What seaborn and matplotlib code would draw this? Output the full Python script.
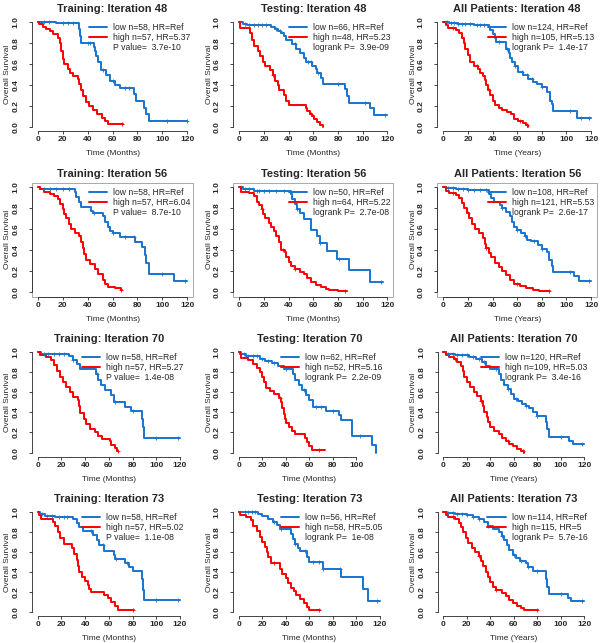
import numpy as np
import pandas as pd
import matplotlib
matplotlib.use("Agg")
import matplotlib.pyplot as plt
from matplotlib.lines import Line2D
from matplotlib.patches import Rectangle
import seaborn as sns

# ---------------------------------------------------------------
# panel texts (row by row, 4 iterations x 3 cohorts)
# ---------------------------------------------------------------
titles = ["Training: Iteration 48", "Testing: Iteration 48", "All Patients: Iteration 48",
          "Training: Iteration 56", "Testing: Iteration 56", "All Patients: Iteration 56",
          "Training: Iteration 70", "Testing: Iteration 70", "All Patients: Iteration 70",
          "Training: Iteration 73", "Testing: Iteration 73", "All Patients: Iteration 73"]
xlabels = ["Time (Months)", "Time (Months)", "Time (Years)"] * 4
low_labels = ["low n=58, HR=Ref", "low n=66, HR=Ref", "low n=124, HR=Ref",
              "low n=58, HR=Ref", "low n=50, HR=Ref", "low n=108, HR=Ref",
              "low n=58, HR=Ref", "low n=62, HR=Ref", "low n=120, HR=Ref",
              "low n=58, HR=Ref", "low n=56, HR=Ref", "low n=114, HR=Ref"]
high_labels = ["high n=57, HR=5.37", "high n=48, HR=5.23", "high n=105, HR=5.13",
               "high n=57, HR=6.04", "high n=64, HR=5.22", "high n=121, HR=5.53",
               "high n=57, HR=5.27", "high n=52, HR=5.16", "high n=109, HR=5.03",
               "high n=57, HR=5.02", "high n=58, HR=5.05", "high n=115, HR=5"]
stat_labels = ["P value=  3.7e-10", "logrank P=  3.9e-09", "logrank P=  1.4e-17",
               "P value=  8.7e-10", "logrank P=  2.7e-08", "logrank P=  2.6e-17",
               "P value=  1.4e-08", "logrank P=  2.2e-09", "logrank P=  3.4e-16",
               "P value=  1.1e-08", "logrank P=  1e-08", "logrank P=  5.7e-16"]
xticks_max = [120, 120, 120, 120, 120, 120, 120, 100, 120, 120, 120, 120]

# ---------------------------------------------------------------
# Kaplan-Meier steps (time, survival)
# ---------------------------------------------------------------
tr48_low = [(0, 1.0), (15, 0.985), (33, 0.93), (34, 0.86), (35, 0.80), (45, 0.76), (46, 0.72), (47, 0.67),
            (48, 0.62), (51, 0.54), (55, 0.49), (58, 0.44), (62, 0.40), (66, 0.37), (77, 0.31), (79, 0.25),
            (85, 0.18), (87, 0.12), (89, 0.06), (120, 0.06)]
tr48_high = [(0, 1.0), (1.3, 0.98), (4, 0.95), (7, 0.93), (10, 0.91), (12.5, 0.88), (16, 0.85), (17.5, 0.80),
             (18.7, 0.72), (20, 0.65), (21, 0.60), (24, 0.55), (26, 0.51), (28.6, 0.48), (32, 0.46), (33, 0.41),
             (34.5, 0.35), (36.6, 0.29), (38.8, 0.24), (41.4, 0.20), (44.6, 0.16), (47.8, 0.12), (51.3, 0.09),
             (54, 0.06), (56.7, 0.03), (68.7, 0.03)]
te48_low = [(0, 1.0), (3, 0.98), (6, 0.97), (26, 0.95), (29, 0.93), (31, 0.91), (34, 0.89), (36, 0.86),
            (38, 0.83), (43, 0.79), (46, 0.74), (49, 0.70), (52, 0.66), (54, 0.62), (59, 0.58), (62, 0.55),
            (63, 0.51), (66, 0.47), (68, 0.41), (86, 0.36), (87, 0.29), (89, 0.23), (106, 0.18), (109, 0.11),
            (120, 0.11)]
te48_high = [(0, 1.0), (0.5, 0.94), (9, 0.89), (10, 0.83), (12, 0.77), (15, 0.72), (17, 0.67), (19.5, 0.62),
             (21, 0.58), (25, 0.54), (27, 0.49), (29, 0.44), (31, 0.40), (32, 0.35), (36, 0.30), (38, 0.25),
             (40, 0.21), (54, 0.18), (55, 0.15), (57, 0.12), (58.6, 0.10), (60.5, 0.08), (62.7, 0.05),
             (65, 0.02), (68, 0.0)]
al48_low = [(0, 1.0), (5, 0.99), (12, 0.98), (25, 0.97), (37, 0.95), (38, 0.92), (40, 0.88), (42, 0.85),
            (43, 0.81), (51, 0.74), (53, 0.70), (54, 0.66), (56, 0.62), (58, 0.58), (61, 0.52), (65, 0.49),
            (69, 0.46), (73, 0.43), (76, 0.41), (80, 0.38), (84, 0.33), (87, 0.25), (88, 0.22), (89.4, 0.15),
            (108.4, 0.09), (120, 0.09)]
al48_high = [(0, 1.0), (2, 0.97), (4, 0.94), (10, 0.92), (13, 0.89), (15, 0.85), (17, 0.80), (18, 0.74),
             (20, 0.68), (22, 0.62), (25, 0.58), (28, 0.55), (30, 0.51), (32, 0.48), (34, 0.45), (35, 0.40),
             (36, 0.35), (38, 0.30), (40, 0.25), (42, 0.21), (45, 0.18), (48, 0.16), (52, 0.14), (55, 0.12),
             (57, 0.08), (61, 0.06), (65, 0.04), (67, 0.02), (69, 0.0)]

tr56_low = [(0, 1.0), (2, 0.98), (30, 0.95), (31, 0.90), (33, 0.86), (35, 0.81), (43, 0.77), (44, 0.75),
            (52, 0.72), (54, 0.67), (56, 0.62), (58, 0.58), (60, 0.56), (66, 0.52), (78, 0.48), (84, 0.43),
            (86, 0.35), (87, 0.28), (89, 0.17), (109, 0.11), (120, 0.11)]
tr56_high = [(0, 1.0), (2, 0.98), (5, 0.95), (10, 0.93), (13, 0.91), (16, 0.88), (18, 0.84), (20, 0.79),
             (21, 0.74), (23, 0.70), (25, 0.65), (27, 0.60), (30, 0.56), (33, 0.53), (35, 0.48), (36, 0.42),
             (37, 0.36), (39, 0.31), (42, 0.27), (46, 0.22), (48, 0.17), (52, 0.12), (54, 0.08), (56, 0.05),
             (62, 0.04), (67, 0.02), (68, 0.02)]
te56_low = [(0, 1.0), (3, 0.98), (12, 0.96), (42, 0.93), (43, 0.88), (45, 0.84), (47, 0.79), (49, 0.75),
            (52, 0.69), (58, 0.59), (63, 0.53), (65, 0.47), (71, 0.39), (79, 0.32), (89, 0.21), (106, 0.10),
            (116, 0.10)]
te56_high = [(0, 1.0), (1, 0.95), (8, 0.94), (12, 0.91), (14, 0.86), (16, 0.83), (18, 0.79), (19, 0.74),
             (21, 0.70), (24, 0.66), (26, 0.62), (28, 0.58), (30, 0.53), (32, 0.48), (34, 0.40), (37, 0.38),
             (38, 0.33), (40, 0.29), (42, 0.25), (45, 0.22), (49, 0.19), (52, 0.17), (55, 0.14), (58, 0.10),
             (62, 0.07), (66, 0.05), (70, 0.03), (73, 0.02), (80, 0.01), (87, 0.01)]
al56_low = [(0, 1.0), (2, 0.99), (10, 0.98), (20, 0.97), (37, 0.93), (39, 0.89), (41, 0.86), (46, 0.83),
            (48, 0.80), (51, 0.76), (54, 0.72), (56, 0.67), (57, 0.62), (60, 0.59), (63, 0.56), (66, 0.53),
            (68, 0.50), (71, 0.49), (77, 0.45), (80, 0.41), (84, 0.38), (86, 0.31), (88, 0.25), (89, 0.19),
            (106, 0.15), (110, 0.11), (120, 0.11)]
al56_high = [(0, 1.0), (2, 0.96), (5, 0.94), (10, 0.92), (13, 0.89), (15, 0.85), (17, 0.80), (19, 0.75),
             (21, 0.70), (23, 0.65), (26, 0.60), (29, 0.56), (32, 0.51), (34, 0.46), (35, 0.42), (37, 0.37),
             (39, 0.33), (42, 0.28), (45, 0.24), (48, 0.20), (51, 0.16), (54, 0.12), (57, 0.08), (62, 0.06),
             (67, 0.04), (73, 0.02), (78, 0.01), (87, 0.01)]

tr70_low = [(0, 1.0), (3, 0.98), (26, 0.96), (30, 0.92), (33, 0.88), (36, 0.83), (49, 0.78), (51, 0.72),
            (53, 0.67), (57, 0.62), (62, 0.57), (64, 0.50), (74, 0.45), (79, 0.41), (88, 0.33), (89, 0.25),
            (90, 0.15), (120, 0.15)]
tr70_high = [(0, 1.0), (2, 0.97), (7, 0.95), (11, 0.92), (14, 0.87), (16, 0.81), (19, 0.75), (21, 0.70),
             (24, 0.65), (27, 0.60), (30, 0.55), (34, 0.52), (35, 0.46), (36, 0.39), (39, 0.33), (41, 0.28),
             (44, 0.23), (48, 0.20), (51, 0.17), (54, 0.14), (61, 0.12), (62, 0.08), (65, 0.05), (67, 0.02),
             (68, 0.02)]
te70_low = [(0, 1.0), (2, 0.98), (6, 0.96), (18, 0.93), (22, 0.91), (28, 0.89), (33, 0.86), (38, 0.83),
            (46, 0.78), (48, 0.72), (51, 0.67), (54, 0.62), (57, 0.57), (60, 0.52), (63, 0.45), (74, 0.41),
            (85, 0.37), (87, 0.32), (96, 0.17), (113, 0.08), (117, 0.0)]
te70_high = [(0, 1.0), (1, 0.98), (2, 0.94), (8, 0.92), (12, 0.88), (15, 0.84), (18, 0.80), (20, 0.75),
             (21, 0.70), (23, 0.64), (26, 0.61), (30, 0.58), (34, 0.54), (36, 0.50), (37, 0.44), (38, 0.38),
             (39, 0.33), (40, 0.29), (43, 0.25), (45, 0.21), (48, 0.18), (56, 0.15), (58, 0.11), (60, 0.07),
             (62, 0.03), (73, 0.03)]
al70_low = [(0, 1.0), (2, 0.98), (10, 0.97), (22, 0.95), (28, 0.93), (33, 0.90), (36, 0.86), (40, 0.83),
            (47, 0.78), (49, 0.72), (52, 0.67), (55, 0.63), (58, 0.58), (60, 0.53), (64, 0.51), (67, 0.48),
            (70, 0.46), (73, 0.44), (76, 0.40), (80, 0.36), (87, 0.30), (88, 0.23), (90, 0.16), (107, 0.12),
            (110, 0.09), (120, 0.09)]
al70_high = [(0, 1.0), (2, 0.97), (5, 0.95), (9, 0.93), (12, 0.90), (15, 0.86), (17, 0.81), (18, 0.75),
             (20, 0.70), (23, 0.65), (26, 0.60), (29, 0.56), (32, 0.51), (34, 0.46), (35, 0.40), (37, 0.35),
             (38, 0.30), (40, 0.25), (43, 0.21), (47, 0.18), (50, 0.15), (53, 0.12), (56, 0.09), (59, 0.07),
             (63, 0.04), (66, 0.02), (69, 0.0)]

tr73_low = [(0, 1.0), (2, 0.98), (6, 0.96), (15, 0.95), (30, 0.93), (33, 0.89), (35, 0.85), (38, 0.81),
            (47, 0.77), (50, 0.72), (52, 0.67), (56, 0.61), (64, 0.57), (65, 0.53), (74, 0.49), (77, 0.45),
            (80, 0.41), (88, 0.33), (89, 0.22), (90, 0.12), (120, 0.12)]
tr73_high = [(0, 1.0), (1, 0.97), (3, 0.93), (13, 0.90), (15, 0.86), (17, 0.80), (19, 0.74), (22, 0.68),
             (29, 0.64), (31, 0.58), (33, 0.52), (34, 0.46), (35, 0.40), (37, 0.35), (40, 0.31), (42, 0.27),
             (43, 0.23), (45, 0.20), (56, 0.17), (59, 0.14), (62, 0.10), (65, 0.06), (68, 0.02), (81, 0.02)]
te73_low = [(0, 1.0), (16, 0.98), (20, 0.96), (25, 0.93), (29, 0.90), (32, 0.87), (35, 0.83), (44, 0.78),
            (46, 0.73), (48, 0.68), (50, 0.64), (52, 0.61), (58, 0.55), (60, 0.50), (72, 0.43), (87, 0.35),
            (106, 0.23), (110, 0.11), (120, 0.11)]
te73_high = [(0, 1.0), (1, 0.97), (6, 0.95), (10, 0.92), (12, 0.86), (15, 0.81), (18, 0.75), (20, 0.70),
             (22, 0.65), (24, 0.60), (25, 0.55), (27, 0.49), (35, 0.43), (37, 0.38), (40, 0.34), (42, 0.29),
             (44, 0.24), (47, 0.21), (49, 0.17), (52, 0.13), (55, 0.09), (58, 0.05), (60, 0.02), (69, 0.02)]
al73_low = [(0, 1.0), (3, 0.99), (10, 0.98), (20, 0.97), (25, 0.95), (30, 0.93), (35, 0.90), (38, 0.86),
            (42, 0.83), (47, 0.80), (50, 0.76), (52, 0.72), (54, 0.67), (56, 0.62), (59, 0.57), (62, 0.54),
            (65, 0.51), (70, 0.49), (72, 0.45), (76, 0.41), (87, 0.33), (88, 0.25), (90, 0.18), (106, 0.14),
            (109, 0.11), (120, 0.11)]
al73_high = [(0, 1.0), (2, 0.97), (4, 0.95), (10, 0.93), (13, 0.89), (15, 0.85), (17, 0.80), (19, 0.74),
             (21, 0.69), (24, 0.64), (27, 0.60), (30, 0.56), (32, 0.51), (34, 0.46), (36, 0.40), (38, 0.35),
             (40, 0.30), (42, 0.25), (45, 0.22), (50, 0.19), (53, 0.16), (56, 0.12), (59, 0.09), (63, 0.06),
             (66, 0.04), (69, 0.02), (81, 0.02)]

# censoring times (the little + marks)
tr48_low_c = [5, 9, 20, 24, 28, 40, 42, 52, 60, 70, 73, 104, 120]
tr48_high_c = [68]
te48_low_c = [5, 8, 12, 15, 18, 22, 30, 33, 45, 56, 58, 64, 80, 102, 118]
te48_high_c = [27, 58]
al48_low_c = [3, 6, 9, 12, 15, 18, 22, 27, 30, 33, 45, 52, 58, 64, 68, 72, 80, 103, 112, 118]
al48_high_c = [8, 27, 37, 62, 68]
tr56_low_c = [5, 10, 15, 20, 25, 45, 60, 70, 77, 100, 118]
tr56_high_c = [67]
te56_low_c = [5, 8, 14, 16, 20, 24, 30, 36, 47, 65, 81, 115]
te56_high_c = [18, 35, 45, 86]
al56_low_c = [4, 8, 12, 16, 20, 25, 30, 35, 48, 60, 66, 74, 80, 103, 118]
al56_high_c = [8, 20, 35, 60, 86]
tr70_low_c = [5, 9, 14, 18, 22, 30, 50, 65, 80, 100, 118]
tr70_high_c = [68]
te70_low_c = [4, 8, 12, 15, 20, 25, 30, 40, 55, 66, 70, 80, 103]
te70_high_c = [35, 68]
al70_low_c = [4, 8, 12, 16, 20, 25, 30, 35, 45, 55, 62, 70, 80, 100, 118]
al70_high_c = [10, 32, 55, 68]
tr73_low_c = [4, 8, 12, 18, 22, 25, 45, 55, 66, 75, 100, 118]
tr73_high_c = [80]
te73_low_c = [5, 8, 11, 14, 30, 36, 48, 56, 63, 68, 72, 86, 118]
te73_high_c = [30, 68]
al73_low_c = [4, 8, 12, 16, 20, 25, 30, 38, 50, 60, 66, 72, 80, 100, 118]
al73_high_c = [8, 30, 45, 80]

low_curves = [tr48_low, te48_low, al48_low, tr56_low, te56_low, al56_low,
              tr70_low, te70_low, al70_low, tr73_low, te73_low, al73_low]
high_curves = [tr48_high, te48_high, al48_high, tr56_high, te56_high, al56_high,
               tr70_high, te70_high, al70_high, tr73_high, te73_high, al73_high]
low_cens = [tr48_low_c, te48_low_c, al48_low_c, tr56_low_c, te56_low_c, al56_low_c,
            tr70_low_c, te70_low_c, al70_low_c, tr73_low_c, te73_low_c, al73_low_c]
high_cens = [tr48_high_c, te48_high_c, al48_high_c, tr56_high_c, te56_high_c, al56_high_c,
             tr70_high_c, te70_high_c, al70_high_c, tr73_high_c, te73_high_c, al73_high_c]

BLUE = "#1874CD"
RED = "#FF0000"

# axes boxes in pixels: rows (top, height), columns (left, width) differ for the lower half
row_top = [17.5, 182.5, 347.7, 507.7]
row_h = [113.7, 114, 109, 108.6]
col_left = [[31.7, 233.4, 437.4], [31.7, 233.4, 437.4], [32, 233.4, 437.7], [32, 233.4, 437.7]]
col_w = [[161.6, 160, 159.6], [161.6, 160, 159.6], [153.7, 152, 152.2], [153.7, 152, 152.2]]

W, H = 601, 643

sns.set_style("ticks")
plt.rcParams["font.family"] = ["Liberation Sans", "DejaVu Sans"]

fig = plt.figure(figsize=(W / 100, H / 100), dpi=100)


def draw_km(ax, pts, cens, color):
    df = pd.DataFrame(pts, columns=["time", "surv"])
    sns.lineplot(data=df, x="time", y="surv", drawstyle="steps-post", color=color,
                 lw=1.4, estimator=None, sort=False, ax=ax)
    idx = np.searchsorted(df["time"].values, cens, side="right") - 1
    sns.scatterplot(x=cens, y=df["surv"].values[idx], marker="+", s=12, color=color,
                    linewidth=0.6, ax=ax, zorder=3)


for i in range(12):
    r, c = divmod(i, 3)
    left, w = col_left[r][c], col_w[r][c]
    ax = fig.add_axes([left / W, 1 - (row_top[r] + row_h[r]) / H, w / W, row_h[r] / H])

    draw_km(ax, low_curves[i], low_cens[i], BLUE)
    draw_km(ax, high_curves[i], high_cens[i], RED)

    ax.set_xlim(-4.8, 124.8)
    ax.set_ylim(-0.04, 1.04)
    xt = np.arange(0, xticks_max[i] + 1, 20)
    ax.set_xticks(xt)
    ax.set_yticks(np.arange(0, 1.01, 0.2))
    ax.set_xticklabels([str(v) for v in xt], fontsize=6, fontweight="bold")
    ax.set_yticklabels([f"{v:.1f}" for v in np.arange(0, 1.01, 0.2)], fontsize=6,
                       fontweight="bold", rotation=90, va="center")
    ax.tick_params(axis="x", length=2.5, width=0.6, pad=1.2)
    ax.tick_params(axis="y", length=2.5, width=0.6, pad=6.5)

    for side in ["top", "right"]:
        ax.spines[side].set_visible(False)
    ax.spines["left"].set_bounds(0, 1)
    ax.spines["bottom"].set_bounds(0, xticks_max[i])
    ax.spines["left"].set_linewidth(0.6)
    ax.spines["bottom"].set_linewidth(0.6)
    if r == 1:
        ax.add_patch(Rectangle((0, 0), 1, 1, transform=ax.transAxes, fill=False,
                               edgecolor="#9a9a9a", lw=0.6, clip_on=False))

    ax.set_title(titles[i], fontsize=8, fontweight="bold", pad=4)
    ax.set_xlabel(xlabels[i], fontsize=6, labelpad=5)
    ax.set_ylabel("Overall Survival", fontsize=6, labelpad=1)

    handles = [Line2D([], [], color=BLUE, lw=1.4), Line2D([], [], color=RED, lw=1.4),
               Line2D([], [], color="none")]
    ax.legend(handles, [low_labels[i], high_labels[i], stat_labels[i]], loc="upper right",
              bbox_to_anchor=(1.0, 0.975), frameon=False, fontsize=6.2, handlelength=2.1,
              handletextpad=0.7, labelspacing=0.1, borderpad=0.3, borderaxespad=0)

fig.savefig("out.png", dpi=100)
